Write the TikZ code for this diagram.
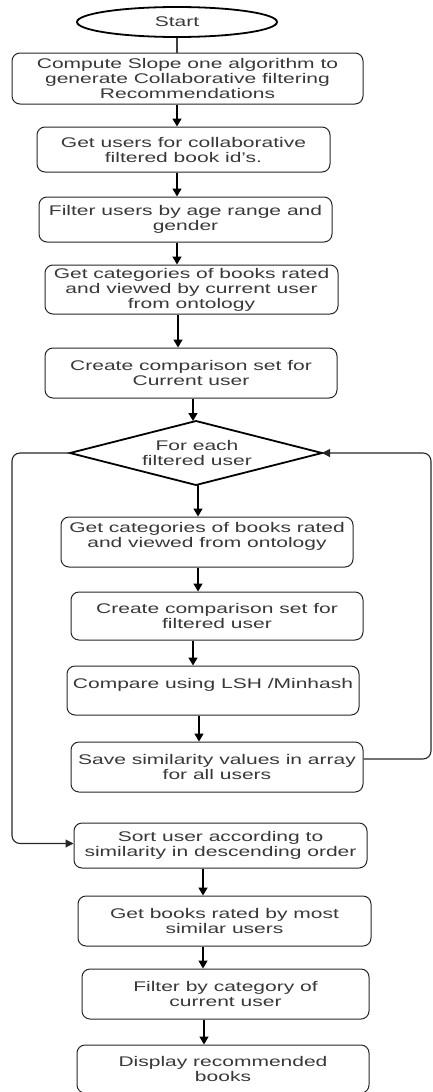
\documentclass[tikz,border=0pt]{standalone}
\usepackage{fontspec}
\setmainfont{Liberation Sans}[FakeStretch=1.5]
\usetikzlibrary{shapes.geometric,arrows.meta}
\begin{document}
\begin{tikzpicture}[x=1pt,y=-1pt,
  txt/.style={text=black!78, font=\fontsize{14}{15}\selectfont, align=center, inner sep=0pt},
  box/.style={txt, draw=black!85, line width=1pt, rounded corners=8pt},
  arr/.style={-{Triangle[length=8pt,width=9pt]}, line width=1.6pt, black},
  loop/.style={-{Triangle[length=8pt,width=8pt]}, line width=1.1pt, black!85, rounded corners=8pt},
  ]
\useasboundingbox (0,0) rectangle (432,1092);
\clip (0,0) rectangle (432,1092);
\node[txt, ellipse, draw=black, line width=1.8pt, minimum width=200pt, minimum height=30pt] (start) at (177,22) {Start};
\node[box, minimum width=351pt, minimum height=51pt] (b1) at (187.5,78.5) {Compute Slope one algorithm to\\generate Collaborative filtering\\Recommendations};
\node[box, minimum width=293pt, minimum height=45pt] (b2) at (183.5,149.5) {Get users for collaborative\\filtered book id's.};
\node[box, minimum width=293pt, minimum height=45pt] (b3) at (185.5,219.5) {Filter users by age range and\\gender};
\node[box, minimum width=293pt, minimum height=49pt] (b4) at (191.5,289.5) {Get categories of books rated\\and viewed by current user\\from ontology};
\node[box, minimum width=292pt, minimum height=50pt] (b5) at (191,373) {Create comparison set for\\Current user};
\node[diamond, draw=black, line width=1.8pt, inner sep=0pt, outer sep=0pt, minimum width=252pt, minimum height=64pt] (dia) at (196,453) {};
\node[txt] (diatext) at (197,453) {For each\\filtered user};
\node[box, minimum width=292pt, minimum height=50pt] (b6) at (207,542) {Get categories of books rated\\and viewed from ontology\\\mbox{}};
\node[box, minimum width=292pt, minimum height=48pt] (b7) at (217,616) {Create comparison set for\\filtered user};
\node[box, minimum width=292pt, minimum height=49pt] (b8) at (213,690.5) {Compare using LSH /Minhash\\\mbox{}};
\node[box, minimum width=292pt, minimum height=50pt] (b9) at (217,767) {Save similarity values in array\\for all users};
\node[box, minimum width=293pt, minimum height=45pt] (b10) at (220.5,845.5) {Sort user according to\\similarity in descending order};
\node[box, minimum width=293pt, minimum height=50pt] (b11) at (224.5,921) {Get books rated by most\\similar users};
\node[box, minimum width=287pt, minimum height=50pt] (b12) at (225.5,994) {Filter by category of\\current user};
\node[box, minimum width=292pt, minimum height=48pt] (b13) at (223,1069) {Display recommended\\books};
\coordinate (c177) at (177,0);
\coordinate (c178) at (178,0);
\coordinate (c193) at (193,0);
\coordinate (c198) at (198,0);
\coordinate (c199) at (199,0);
\coordinate (c203) at (203,0);
\coordinate (c204) at (204,0);
\coordinate (lx) at (12,0);
\coordinate (rx) at (431,0);
\draw[line width=1.6pt, black!75] (start.south) -- (start.south |- b1.north);
\draw[arr] (b1.south -| c177) -- (b2.north -| c177);
\draw[arr] (b2.south -| c177) -- (b3.north -| c177);
\draw[arr] (b3.south -| c177) -- (b4.north -| c177);
\draw[arr] (b4.south -| c178) -- (b5.north -| c178);
\draw[arr] (b5.south -| c193) -- (dia.north -| c193);
\draw[arr] (dia.south -| c198) -- (b6.north -| c198);
\draw[arr] (b6.south -| c198) -- (b7.north -| c198);
\draw[arr] (b7.south -| c193) -- (b8.north -| c193);
\draw[arr] (b8.south -| c199) -- (b9.north -| c199);
\draw[arr] (b10.south -| c203) -- (b11.north -| c203);
\draw[arr] (b11.south -| c203) -- (b12.north -| c203);
\draw[arr] (b12.south -| c204) -- (b13.north -| c204);
\draw[loop] (dia.west) -- (dia.west -| lx) -- ([yshift=2pt]b10.west -| lx) -- ([yshift=2pt]b10.west);
\draw[loop] ([yshift=8pt]b9.east) -- ([yshift=8pt]b9.east -| rx) -- (dia.east -| rx) -- (dia.east);
\end{tikzpicture}
\end{document}
